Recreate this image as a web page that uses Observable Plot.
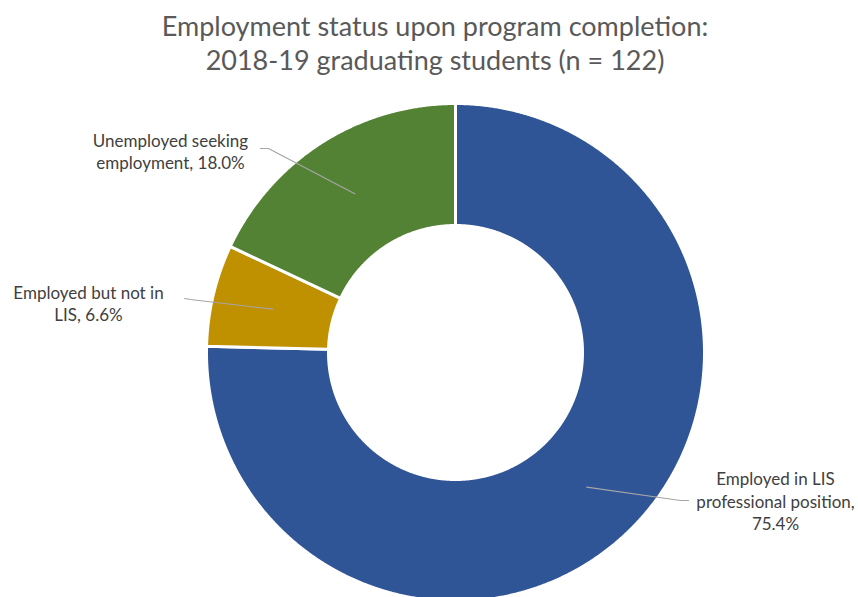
<!DOCTYPE html>
<html><head><meta charset="utf-8">
<script src="https://cdn.jsdelivr.net/npm/d3@7"></script>
<script src="https://cdn.jsdelivr.net/npm/@observablehq/plot@0.6"></script>
<style>
body{margin:0;background:#fff;overflow:hidden}
#title{height:90px;box-sizing:border-box;padding-top:9px;padding-left:12px;text-align:center;font-family:Lato,sans-serif;font-size:27px;line-height:34px;color:#595959}
</style></head><body>
<div id="title">Employment status upon program completion:<br>2018-19 graduating students (n = 122)</div>
<div id="chart"></div>
<script>
const categories = ["Employed in LIS professional position", "Employed but not in LIS", "Unemployed seeking employment"];
const values = [75.4, 6.6, 18.0];
const labelTexts = ["Employed in LIS\nprofessional position,\n75.4%", "Employed but not in\nLIS, 6.6%", "Unemployed seeking\nemployment, 18.0%"];
const colors = ["#2F5597", "#BF9000", "#548235"];

// layout (page pixels)
const W = 858, TITLE_H = 90, H = 597 - TITLE_H;
const CX = 455, CY = 352, R = 249, R_IN = 127;
const labelLayout = [
  {tx: 775, ty: 500, elbow: [680, 500], end: [688, 500]},
  {tx: 88, ty: 302, elbow: [190, 299], end: [184, 298]},
  {tx: 170, ty: 150, elbow: [268, 148], end: [260, 148]}
];
const ux = px => (px - CX) / R;
const uy = py => (CY - py) / R;
const inner = R_IN / R;

const arcs = d3.pie().sort(null).value(d => d)(values);
const poly = [];
const leaders = [];
const labels = [];
arcs.forEach((a, i) => {
  const n = Math.max(6, Math.ceil((a.endAngle - a.startAngle) / 0.005));
  for (let k = 0; k <= n; k++) {
    const t = a.startAngle + (a.endAngle - a.startAngle) * k / n;
    poly.push({cat: categories[i], x: Math.sin(t), y: Math.cos(t)});
  }
  for (let k = n; k >= 0; k--) {
    const t = a.startAngle + (a.endAngle - a.startAngle) * k / n;
    poly.push({cat: categories[i], x: inner * Math.sin(t), y: inner * Math.cos(t)});
  }
  const m = (a.startAngle + a.endAngle) / 2, rm = (1 + inner) / 2;
  const L = labelLayout[i];
  leaders.push({cat: categories[i], x: rm * Math.sin(m), y: rm * Math.cos(m)});
  leaders.push({cat: categories[i], x: ux(L.elbow[0]), y: uy(L.elbow[1])});
  leaders.push({cat: categories[i], x: ux(L.end[0]), y: uy(L.end[1])});
  labels.push({text: labelTexts[i], x: ux(L.tx), y: uy(L.ty)});
});

const chart = Plot.plot({
  width: W, height: H,
  margin: 0,
  x: {axis: null, domain: [-1, 1], range: [CX - R, CX + R]},
  y: {axis: null, domain: [-1, 1], range: [CY - TITLE_H + R, CY - TITLE_H - R]},
  color: {domain: categories, range: colors},
  style: {fontFamily: "Lato, sans-serif", background: "white", overflow: "visible"},
  marks: [
    Plot.line(poly, {x: "x", y: "y", z: "cat", fill: "cat", stroke: "white", strokeWidth: 3, curve: "linear-closed"}),
    Plot.line(leaders, {x: "x", y: "y", z: "cat", stroke: "#a6a6a6", strokeWidth: 1.2}),
    Plot.text(labels, {x: "x", y: "y", text: "text", fill: "#404040", fontSize: 17, lineHeight: 1.3, textAnchor: "middle", lineAnchor: "middle"})
  ]
});
document.getElementById("chart").appendChild(chart);
</script>
</body></html>
